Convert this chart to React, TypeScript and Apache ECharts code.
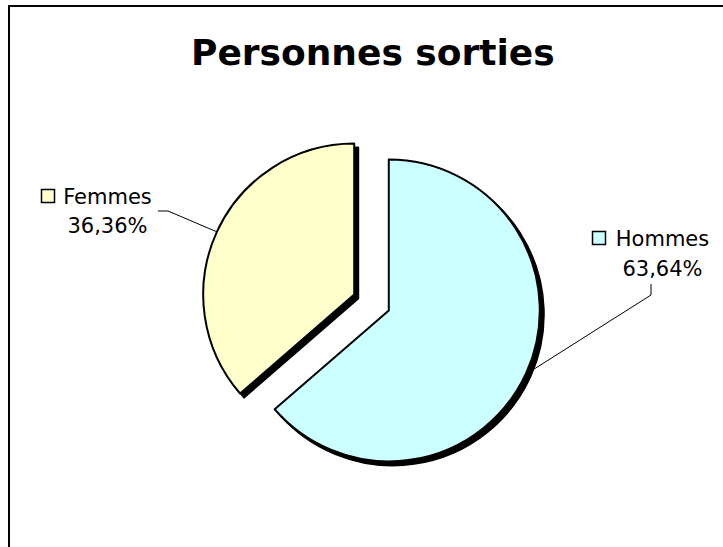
import React, { useEffect, useRef } from "react";
import * as echarts from "echarts";

const titleText = "Personnes sorties";
const categories = ["Hommes", "Femmes"];
const values = [7, 4];
const colors = ["#CCFFFF", "#FFFFCC"];

// layout constants (pixels)
const CX = 371.5;
const CY = 302.5;
const R = 151;
const OFF = 19;
const FONT = "DejaVu Sans";

// label block placement: key box left/top, text centre x, first/second line centre y, line bend/end
const labelPlaces = [
  { kx: 592.5, ky: 231.5, tx: 662.5, y1: 238.5, y2: 269, bend: [651, 295], end: [651, 284] },
  { kx: 41.5, ky: 189.5, tx: 107.5, y1: 196.5, y2: 226, bend: [168, 211], end: [158, 211] },
];

export default function App() {
  const ref = useRef<HTMLDivElement>(null);
  useEffect(() => {
    if (!ref.current) return;
    const chart = echarts.init(ref.current, null, { renderer: "svg" });
    const total = values.reduce((a, b) => a + b, 0);
    const mids: number[] = [];
    let cum = 0;
    values.forEach((v) => {
      const s = 90 - (360 * cum) / total;
      const e = s - (360 * v) / total;
      mids.push(((s + e) / 2) * (Math.PI / 180));
      cum += v;
    });
    const edge = (i: number) => {
      const a = mids[i];
      const ox = CX + OFF * Math.cos(a);
      const oy = CY - OFF * Math.sin(a);
      return [ox + (R + 1) * Math.cos(a), oy - (R + 1) * Math.sin(a)];
    };

    const labelGraphics: any[] = [];
    categories.forEach((name, i) => {
      const lp = labelPlaces[i];
      const pct = ((values[i] / total) * 100).toFixed(2).replace(".", ",") + "%";
      labelGraphics.push(
        {
          type: "polyline",
          silent: true,
          shape: { points: [edge(i), lp.bend, lp.end] },
          style: { stroke: "#000", lineWidth: 1, fill: "none" },
        },
        {
          type: "rect",
          silent: true,
          shape: { x: lp.kx, y: lp.ky, width: 13, height: 13 },
          style: { fill: colors[i], stroke: "#000", lineWidth: 1.5 },
        },
        {
          type: "text",
          silent: true,
          x: lp.tx,
          y: lp.y1,
          style: {
            text: name,
            fontFamily: FONT,
            fontSize: 21,
            fill: "#000",
            textAlign: "center",
            textVerticalAlign: "middle",
          },
        },
        {
          type: "text",
          silent: true,
          x: lp.tx,
          y: lp.y2,
          style: {
            text: pct,
            fontFamily: FONT,
            fontSize: 21,
            fill: "#000",
            textAlign: "center",
            textVerticalAlign: "middle",
          },
        }
      );
    });

    chart.setOption({
      animation: false,
      backgroundColor: "#fff",
      title: {
        text: titleText,
        left: 186,
        top: 29,
        textStyle: { fontFamily: FONT, fontSize: 36, fontWeight: "bold", color: "#000" },
      },
      graphic: [
        {
          type: "rect",
          shape: { x: 9, y: 6, width: 1000, height: 1000 },
          style: { fill: "none", stroke: "#000", lineWidth: 2 },
          silent: true,
        },
        ...labelGraphics,
      ],
      series: [
        {
          type: "pie",
          center: [CX, CY],
          radius: R,
          startAngle: 90,
          clockwise: true,
          selectedMode: "multiple",
          selectedOffset: OFF,
          avoidLabelOverlap: false,
          emphasis: { disabled: true, scale: false },
          itemStyle: {
            borderColor: "#000",
            borderWidth: 2,
            shadowColor: "#000",
            shadowBlur: 0,
            shadowOffsetX: 4,
            shadowOffsetY: 4,
          },
          label: { show: false },
          labelLine: { show: false },
          data: categories.map((name, i) => ({
            name,
            value: values[i],
            selected: true,
            itemStyle: { color: colors[i] },
          })),
        },
      ],
    });
    return () => chart.dispose();
  }, []);
  return (
    <div
      ref={ref}
      style={{ position: "fixed", left: 0, top: 0, width: 723, height: 547, background: "#fff" }}
    />
  );
}
